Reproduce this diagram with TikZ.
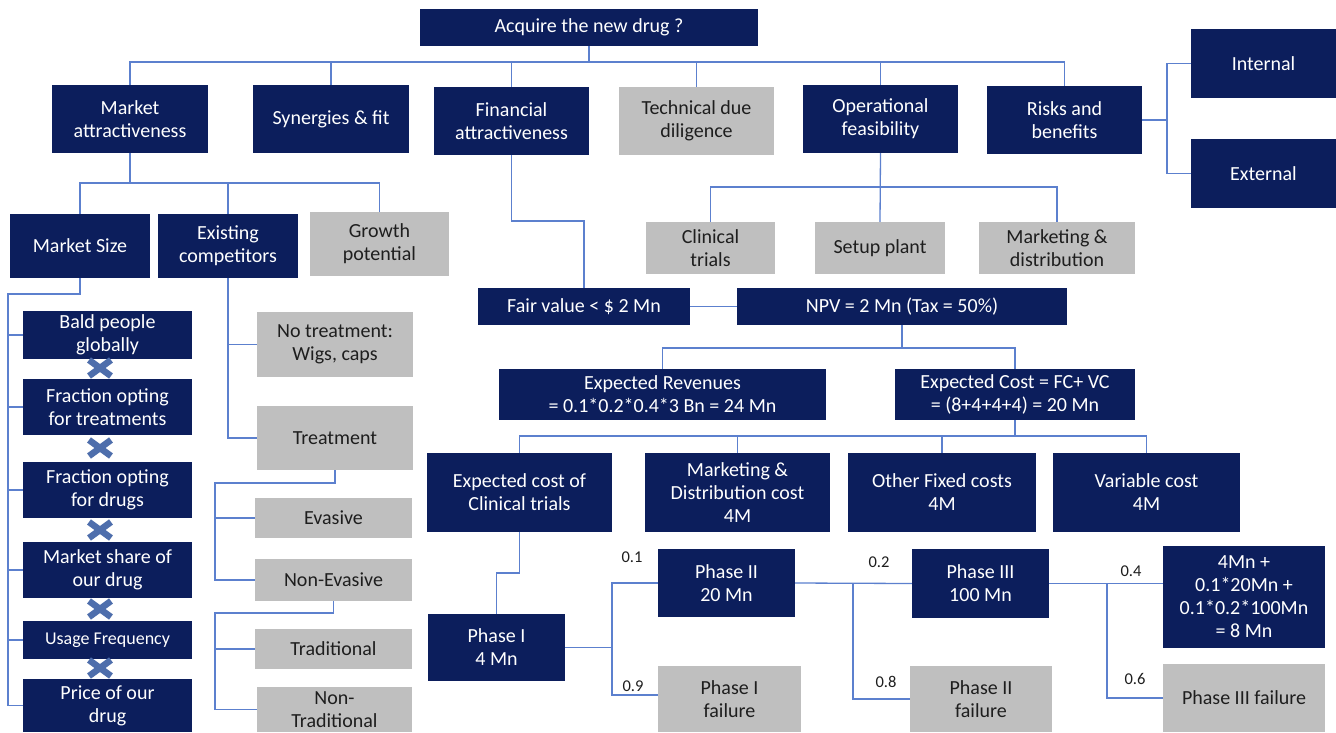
\documentclass[tikz,border=0pt]{standalone}
\usepackage{fontspec}
\setmainfont{Carlito}
\definecolor{navy}{RGB}{12,30,92}
\definecolor{boxgray}{RGB}{191,191,191}
\definecolor{lineblue}{RGB}{92,128,206}
\definecolor{txtdark}{RGB}{30,30,30}
\definecolor{crossblue}{RGB}{78,110,172}
\tikzset{
  dk/.style={fill=navy, text=white, draw=none, align=center, inner sep=0pt,
    font=\fontsize{20}{23}\selectfont},
  gr/.style={fill=boxgray, text=txtdark, draw=none, align=center, inner sep=0pt,
    font=\fontsize{20}{23}\selectfont},
  ln/.style={draw=lineblue, line width=1.3pt},
  prob/.style={text=txtdark, inner sep=0pt, font=\fontsize{16.5}{18}\selectfont},
  xmark/.style={draw=crossblue, line width=6.5pt, line cap=butt}
}
\begin{document}
\begin{tikzpicture}[x=1pt,y=-1pt]
\useasboundingbox (0,0) rectangle (1336,732);
\fill[white] (0,0) rectangle (1336,732);

% level coordinates
\coordinate (y62) at (0,62);
\coordinate (y183) at (0,183);
\coordinate (y187) at (0,187);
\coordinate (y221) at (0,221);
\coordinate (y348) at (0,348);
\coordinate (y436) at (0,436);
\coordinate (y573) at (0,573);

% top
\node[dk, minimum width=338, minimum height=37] (acq) at (589,27.5) {Acquire the new drug ?};
\node[dk, minimum width=156, minimum height=68] (ma) at (130,119) {Market\\attractiveness};
\node[dk, minimum width=156, minimum height=68] (syn) at (331,119) {Synergies \& fit};
\node[dk, minimum width=155, minimum height=68] (fin) at (511.5,121) {Financial\\attractiveness};
\node[gr, minimum width=155, minimum height=68] (tdd) at (696.5,121) {Technical due\\diligence};
\node[dk, minimum width=155, minimum height=68] (op) at (880.5,119) {Operational\\feasibility};
\node[dk, minimum width=155, minimum height=68] (rb) at (1064.5,120) {Risks and\\benefits};
\node[dk, minimum width=145, minimum height=69] (int) at (1263.5,63.5) {Internal};
\node[dk, minimum width=145, minimum height=69] (ext) at (1263.5,173.5) {External};

% market attractiveness subtree
\node[dk, minimum width=140, minimum height=64] (msz) at (80,246) {Market Size};
\node[dk, minimum width=140, minimum height=64] (ec) at (228,246) {Existing\\competitors};
\node[gr, minimum width=139, minimum height=64] (gp) at (379.5,244) {Growth\\potential};

\node[dk, minimum width=169, minimum height=48] (bald) at (107.5,335) {Bald people\\globally};
\node[dk, minimum width=169, minimum height=56] (fot) at (107.5,407) {Fraction opting\\for treatments};
\node[dk, minimum width=169, minimum height=56] (fod) at (107.5,490) {Fraction opting\\for drugs};
\node[dk, minimum width=169, minimum height=56] (msd) at (107.5,570) {Market share of\\our drug};
\node[dk, minimum width=169, minimum height=38, font=\fontsize{18}{20}\selectfont] (uf) at (107.5,640) {Usage Frequency};
\node[dk, minimum width=169, minimum height=53] (pod) at (107.5,705.5) {Price of our\\drug};

\node[gr, minimum width=156, minimum height=65] (nt) at (335,344.5) {No treatment:\\Wigs, caps};
\node[gr, minimum width=156, minimum height=64] (tr) at (335,438) {Treatment};
\node[gr, minimum width=157, minimum height=40] (ev) at (333.5,518) {Evasive};
\node[gr, minimum width=157, minimum height=42] (ne) at (333.5,580) {Non-Evasive};
\node[gr, minimum width=157, minimum height=40] (trad) at (333.5,649) {Traditional};
\node[gr, minimum width=155, minimum height=45] (ntr) at (334.5,709.5) {Non-\\Traditional};

% operational subtree
\node[gr, minimum width=129, minimum height=52] (ct) at (710.5,248) {Clinical\\trials};
\node[gr, minimum width=130, minimum height=52] (sp) at (880,248) {Setup plant};
\node[gr, minimum width=156, minimum height=52] (md) at (1057,248) {Marketing \&\\distribution};

% financial subtree
\node[dk, minimum width=212, minimum height=37] (fv) at (584,306.5) {Fair value < \$ 2 Mn};
\node[dk, minimum width=330, minimum height=37] (npv) at (902,306.5) {NPV = 2 Mn (Tax = 50\%)};

\node[dk, minimum width=327, minimum height=51] (erev) at (662.5,394.5) {Expected Revenues\\= 0.1*0.2*0.4*3 Bn = 24 Mn};
\node[dk, minimum width=240, minimum height=51] (ecost) at (1015,394.5) {Expected Cost = FC+ VC\\= (8+4+4+4) = 20 Mn};

\node[dk, minimum width=185, minimum height=79] (ecct) at (519.5,492.5) {Expected cost of\\Clinical trials};
\node[dk, minimum width=185, minimum height=79] (mdc) at (737.5,492.5) {Marketing \&\\Distribution cost\\4M};
\node[dk, minimum width=188, minimum height=79] (ofc) at (942,492.5) {Other Fixed costs\\4M};
\node[dk, minimum width=187, minimum height=79] (vc) at (1146.5,492.5) {Variable cost\\4M};

% phases
\node[dk, minimum width=137, minimum height=67] (p1) at (496.5,647.5) {Phase I\\4 Mn};
\node[dk, minimum width=137, minimum height=68] (p2) at (726.5,583) {Phase II\\20 Mn};
\node[gr, minimum width=143, minimum height=66] (p1f) at (729.5,699) {Phase I\\failure};
\node[dk, minimum width=137, minimum height=69] (p3) at (980.5,583.5) {Phase III\\100 Mn};
\node[gr, minimum width=142, minimum height=66] (p2f) at (981,699) {Phase II\\failure};
\node[dk, minimum width=162, minimum height=102] (res) at (1244,597) {4Mn +\\0.1*20Mn +\\0.1*0.2*100Mn\\= 8 Mn};
\node[gr, minimum width=162, minimum height=68] (p3f) at (1244,698) {Phase III failure};

% probability labels
\node[prob] (l01) at (632,557) {0.1};
\node[prob] (l09) at (633,686) {0.9};
\node[prob] (l02) at (879,562) {0.2};
\node[prob] (l08) at (886,682) {0.8};
\node[prob] (l04) at (1131,571) {0.4};
\node[prob] (l06) at (1135,679) {0.6};

% ---- connectors ----
% top level
\draw[ln] (acq.south) -- (acq.south |- y62);
\draw[ln] (ma.north) -- (ma.north |- y62) -- (rb.north |- y62) -- (rb.north);
\draw[ln] (syn.north) -- (syn.north |- y62);
\draw[ln] (fin.north) -- (fin.north |- y62);
\draw[ln] (tdd.north) -- (tdd.north |- y62);
\draw[ln] (op.north) -- (op.north |- y62);
% risks
\coordinate (rr) at (1167,120);
\draw[ln] (rb.east) -- (rr);
\draw[ln] (rr) |- (int.west);
\draw[ln] (rr) |- (ext.west);
% market attractiveness
\draw[ln] (ma.south) -- (ma.south |- y183);
\draw[ln] (msz.north) -- (msz.north |- y183) -- (gp.north |- y183) -- (gp.north);
\draw[ln] (ec.north) -- (ec.north |- y183);
% market size rail
\coordinate (railA) at (8,294);
\draw[ln] (msz.south) |- (railA) -- (railA |- pod.west);
\foreach \n in {bald,fot,fod,msd,uf,pod} \draw[ln] (railA |- \n.west) -- (\n.west);
% existing competitors
\draw[ln] (ec.south) |- (nt.west);
\draw[ln] (ec.south) |- (tr.west);
\coordinate (railB) at (215,483);
\draw[ln] (tr.south) |- (railB) |- (ev.west);
\draw[ln] (railB) |- (ne.west);
\coordinate (railC) at (215,613);
\draw[ln] (ne.south) |- (railC) |- (trad.west);
\draw[ln] (railC) |- (ntr.west);
% operational
\draw[ln] (op.south) -- (sp.north);
\draw[ln] (ct.north) -- (ct.north |- y187) -- (md.north |- y187) -- (md.north);
% financial
\draw[ln] (fin.south) |- (fv.north |- y221) -- (fv.north);
\draw[ln] (fv.east) -- (npv.west);
\draw[ln] (npv.south) -- (npv.south |- y348);
\draw[ln] (erev.north) -- (erev.north |- y348) -- (ecost.north |- y348) -- (ecost.north);
\draw[ln] (ecost.south) -- (ecost.south |- y436);
\draw[ln] (ecct.north) -- (ecct.north |- y436) -- (vc.north |- y436) -- (vc.north);
\draw[ln] (mdc.north) -- (mdc.north |- y436);
\draw[ln] (ofc.north) -- (ofc.north |- y436);
% phases
\draw[ln] (ecct.south) |- (p1.north |- y573) -- (p1.north);
\coordinate (j1) at (612,647.5);
\draw[ln] (p1.east) -- (j1);
\draw[ln] (j1) |- (p2.west);
\draw[ln] (j1) |- ([yshift=4pt]p1f.west);
\coordinate (j2) at (853,583);
\draw[ln] (p2.east) -- (p3.west);
\draw[ln] (j2) |- (p2f.west);
\coordinate (j3) at (1107,583.5);
\draw[ln] (p3.east) -- (p3.east -| res.west);
\draw[ln] (j3) |- (p3f.west);

% multiplication marks
\foreach \yy in {368,448,530,609,668} {
  \draw[xmark] (89,\yy-8) -- (111,\yy+8);
  \draw[xmark] (89,\yy+8) -- (111,\yy-8);
}
\end{tikzpicture}
\end{document}
